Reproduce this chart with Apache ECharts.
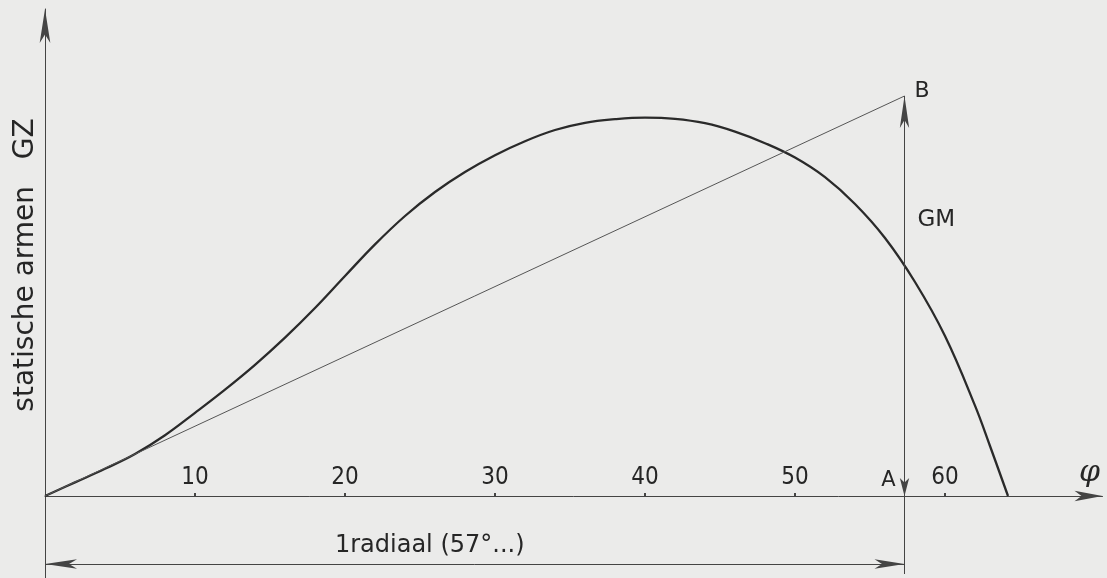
<!DOCTYPE html>
<html>
<head>
<meta charset="utf-8">
<script src="https://cdn.jsdelivr.net/npm/echarts@6/dist/echarts.min.js"></script>
<style>
html,body{margin:0;padding:0;background:#ebebea;}
#c{width:1107px;height:578px;}
</style>
</head>
<body>
<div id="c"></div>
<script>
// heel angle (degrees) and righting lever GZ (relative units, GM = 1)
const phi = [0, 2, 4, 6, 8, 10, 12, 14, 16, 18, 20, 22, 24, 26, 28, 30, 32, 34, 36, 38, 40, 42, 44, 46, 48, 50, 52, 54, 56, 58, 60, 62, 63, 64.2];
const gz  = [0, 0.034, 0.068, 0.105, 0.152, 0.208, 0.266, 0.328, 0.396, 0.470, 0.550, 0.629, 0.700, 0.760, 0.810, 0.852, 0.887, 0.915, 0.933, 0.942, 0.946, 0.943, 0.932, 0.911, 0.882, 0.846, 0.797, 0.730, 0.645, 0.535, 0.400, 0.226, 0.125, 0];
const tickValues = [10, 20, 30, 40, 50, 60];
const oneRadian = 57.3;   // 1 rad in degrees
const gm = 1.0;           // GM (height of B)
const dimLevel = -0.17;   // level of the "1 radiaal" dimension line (below the φ axis)
const annoNames = ['B', 'GM', 'A'];
const annoPhi = [57.3, 57.3, 57.3];
const annoVal = [1.0, 0.69, 0];

const FONT = "'DejaVu Sans', 'Liberation Sans', sans-serif";
const FONT_C = "'DejaVu Sans Condensed', 'Liberation Sans Narrow', 'DejaVu Sans', sans-serif";
const INK = '#262626';
const AX = '#444';

const annoStyle = [
  {position: 'right', distance: 10, offset: [0, -5], fontSize: 22},
  {position: 'right', distance: 13, offset: [0, 0], fontSize: 23},
  {position: 'left', distance: 9, offset: [0, -15], fontSize: 21}
];

const chart = echarts.init(document.getElementById('c'), null, {renderer: 'canvas'});
chart.setOption({
  backgroundColor: '#ebebea',
  animation: false,
  textStyle: {fontFamily: FONT, color: INK},
  grid: [
    {left: 45, right: 4.5, top: 9, bottom: 82, outerBoundsMode: 'none', containLabel: false},
    {left: 45, right: 4.5, top: 496, bottom: 0, outerBoundsMode: 'none', containLabel: false}
  ],
  xAxis: [{
    gridIndex: 0, type: 'value', min: 0, max: 70.5, interval: 10,
    axisLine: {onZero: false, symbol: ['none', 'arrow'], symbolSize: [8, 28], lineStyle: {color: AX, width: 1}},
    axisTick: {inside: true, length: 3, customValues: tickValues, lineStyle: {color: AX, width: 2}},
    axisLabel: {inside: true, customValues: tickValues, margin: 6, color: INK, fontSize: 24, fontFamily: FONT_C},
    splitLine: {show: false},
    name: 'φ', nameLocation: 'end', nameGap: -13,
    nameTextStyle: {fontSize: 30, fontStyle: 'italic', fontFamily: "'DejaVu Serif', serif", align: 'center', verticalAlign: 'bottom', padding: [0, 0, 8, 0], color: INK}
  }, {
    gridIndex: 1, type: 'value', min: 0, max: 70.5, interval: 10, show: false
  }],
  yAxis: [{
    gridIndex: 0, type: 'value', min: 0, max: 1.2175,
    axisLine: {show: true, onZero: false, symbol: ['none', 'arrow'], symbolSize: [8, 34], lineStyle: {color: AX, width: 1}},
    axisTick: {show: false}, axisLabel: {show: false}, splitLine: {show: false},
    name: 'statische armen   GZ', nameLocation: 'middle', nameRotate: 90, nameGap: 5,
    nameTextStyle: {fontSize: 28, color: INK, padding: [0, 25, 0, 0]}
  }, {
    gridIndex: 1, type: 'value', min: -0.205, max: 0,
    axisLine: {show: true, onZero: false, lineStyle: {color: AX, width: 1}},
    axisTick: {show: false}, axisLabel: {show: false}, splitLine: {show: false}
  }],
  series: [
    {
      name: 'GZ', type: 'line', smooth: 0.4, symbol: 'none',
      xAxisIndex: 0, yAxisIndex: 0,
      data: phi.map((p, i) => [p, gz[i]]),
      lineStyle: {color: '#2a2a2a', width: 2.3}
    },
    {
      name: 'tangent', type: 'line', symbol: 'none',
      xAxisIndex: 0, yAxisIndex: 0,
      data: [[0, 0], [oneRadian, gm]],
      lineStyle: {color: '#555', width: 1},
      markLine: {
        silent: true, animation: false,
        symbol: ['none', 'arrow'], symbolSize: [7, 32],
        lineStyle: {type: 'solid', color: AX, width: 1},
        label: {show: false},
        data: [
          [{coord: [oneRadian, 0]}, {coord: [oneRadian, gm]}],
          [{coord: [oneRadian, 0.1]}, {coord: [oneRadian, 0], symbolSize: [7, 18]}]
        ]
      }
    },
    {
      name: 'dimension', type: 'line', symbol: 'none',
      xAxisIndex: 1, yAxisIndex: 1,
      data: [],
      markLine: {
        silent: true, animation: false,
        symbol: ['none', 'none'],
        lineStyle: {type: 'solid', color: AX, width: 1},
        label: {show: false},
        data: [
          [{coord: [oneRadian, 0]}, {coord: [oneRadian, -0.195]}],
          [{coord: [0, dimLevel], symbol: 'arrow', symbolSize: [7, 32]},
           {coord: [oneRadian, dimLevel], symbol: 'arrow', symbolSize: [7, 30],
            label: {show: true, formatter: '1radiaal (57°...)', position: 'insideMiddleTop', distance: 6, fontSize: 24, color: INK, padding: [0, 90, 0, 0]}}]
        ]
      }
    },
    {
      name: 'labels', type: 'scatter', symbolSize: 0, silent: true,
      xAxisIndex: 0, yAxisIndex: 0,
      itemStyle: {opacity: 1},
      data: annoNames.map((n, i) => ({
        value: [annoPhi[i], annoVal[i]], name: n,
        label: Object.assign({show: true, formatter: n, color: INK, opacity: 1}, annoStyle[i])
      }))
    }
  ]
});
</script>
</body>
</html>
